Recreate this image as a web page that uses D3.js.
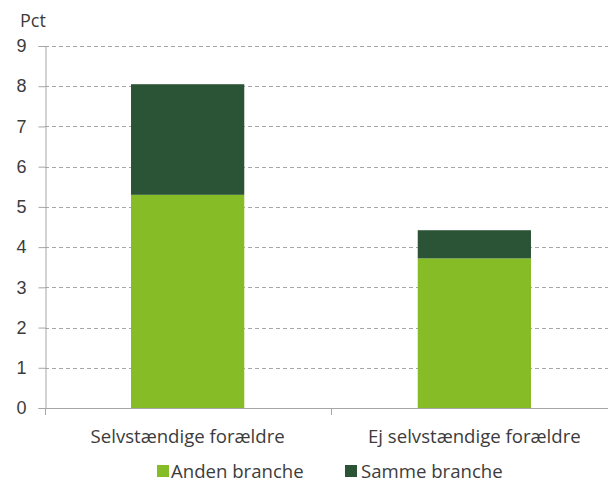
<!DOCTYPE html>
<html>
<head>
<meta charset="utf-8">
<script src="https://cdn.jsdelivr.net/npm/d3@7"></script>
<style>
  body { margin: 0; background: #fff; }
  svg { display: block; font-family: "Open Sans", sans-serif; }
</style>
</head>
<body>
<div id="vis"></div>
<script>
// data
var categories = ['Selvstændige forældre', 'Ej selvstændige forældre'];
var seriesNames = ['Anden branche', 'Samme branche'];
var andenBranche = [5.3, 3.72];
var sammeBranche = [2.75, 0.7];
var yTicks = [0, 1, 2, 3, 4, 5, 6, 7, 8, 9];

var width = 608;
var height = 482;
var margin = { top: 46, left: 45, bottom: 74 };
var plotRight = 617; // axis runs past the right edge in the original

var colors = { 'Anden branche': '#86bc25', 'Samme branche': '#2b5436' };
var textColor = '#3c3c3c';
var fontSize = '18px';
var labelSize = '18.6px';

var rows = categories.map(function (c, i) {
  return { cat: c, 'Anden branche': andenBranche[i], 'Samme branche': sammeBranche[i] };
});
var stacked = d3.stack().keys(seriesNames)(rows);

var svg = d3.select('#vis').append('svg')
  .attr('width', width)
  .attr('height', height);

var x = d3.scaleBand()
  .domain(categories)
  .range([margin.left, plotRight])
  .paddingInner(0.605)
  .paddingOuter(0.3);

var y = d3.scaleLinear()
  .domain([0, 9])
  .range([height - margin.bottom, margin.top]);

// gridlines
svg.append('g').selectAll('line')
  .data(yTicks.slice(1))
  .enter().append('line')
  .attr('x1', margin.left)
  .attr('x2', width)
  .attr('y1', function (d) { return Math.round(y(d)) + 0.5; })
  .attr('y2', function (d) { return Math.round(y(d)) + 0.5; })
  .attr('stroke', '#a6a6a6')
  .attr('stroke-width', 1)
  .attr('stroke-dasharray', '4,3');

// bars
svg.append('g').selectAll('g')
  .data(stacked)
  .enter().append('g')
  .attr('fill', function (d) { return colors[d.key]; })
  .selectAll('rect')
  .data(function (d) { return d; })
  .enter().append('rect')
  .attr('x', function (d) { return x(d.data.cat); })
  .attr('width', x.bandwidth())
  .attr('y', function (d) { return y(d[1]); })
  .attr('height', function (d) { return y(d[0]) - y(d[1]); });

// y axis
var yAxis = svg.append('g')
  .attr('transform', 'translate(' + (margin.left + 0.5) + ',0)')
  .call(d3.axisLeft(y).tickValues(yTicks).tickSize(7).tickPadding(12));
yAxis.select('.domain').attr('stroke', '#a6a6a6');
yAxis.selectAll('.tick line').attr('stroke', '#a6a6a6');
yAxis.selectAll('.tick text')
  .attr('fill', textColor)
  .style('font-size', fontSize);

// x axis line with a tick at the band borders
var xAxisG = svg.append('g');
xAxisG.append('line')
  .attr('x1', margin.left)
  .attr('x2', width)
  .attr('y1', y(0) + 0.5)
  .attr('y2', y(0) + 0.5)
  .attr('stroke', '#a6a6a6');
var borders = [margin.left, (x(categories[0]) + x.bandwidth() + x(categories[1])) / 2];
xAxisG.selectAll('.border')
  .data(borders)
  .enter().append('line')
  .attr('x1', function (d) { return Math.round(d) + 0.5; })
  .attr('x2', function (d) { return Math.round(d) + 0.5; })
  .attr('y1', y(0))
  .attr('y2', y(0) + 7)
  .attr('stroke', '#a6a6a6');
xAxisG.selectAll('.cat')
  .data(categories)
  .enter().append('text')
  .attr('x', function (d) { return x(d) + x.bandwidth() / 2; })
  .attr('y', y(0) + 35)
  .attr('text-anchor', 'middle')
  .attr('fill', textColor)
  .style('font-size', labelSize)
  .text(function (d) { return d; });

// unit label
svg.append('text')
  .attr('x', 20)
  .attr('y', 27)
  .attr('fill', textColor)
  .style('font-size', fontSize)
  .text('Pct');

// legend
var legendX = [157, 345];
var legend = svg.append('g').selectAll('g')
  .data(seriesNames)
  .enter().append('g')
  .attr('transform', function (d, i) { return 'translate(' + legendX[i] + ',' + 465 + ')'; });
legend.append('rect')
  .attr('width', 12)
  .attr('height', 12)
  .attr('fill', function (d) { return colors[d]; });
legend.append('text')
  .attr('x', function (d, i) { return i === 0 ? 14 : 16; })
  .attr('y', 13)
  .attr('fill', textColor)
  .style('font-size', labelSize)
  .text(function (d) { return d; });
</script>
</body>
</html>
